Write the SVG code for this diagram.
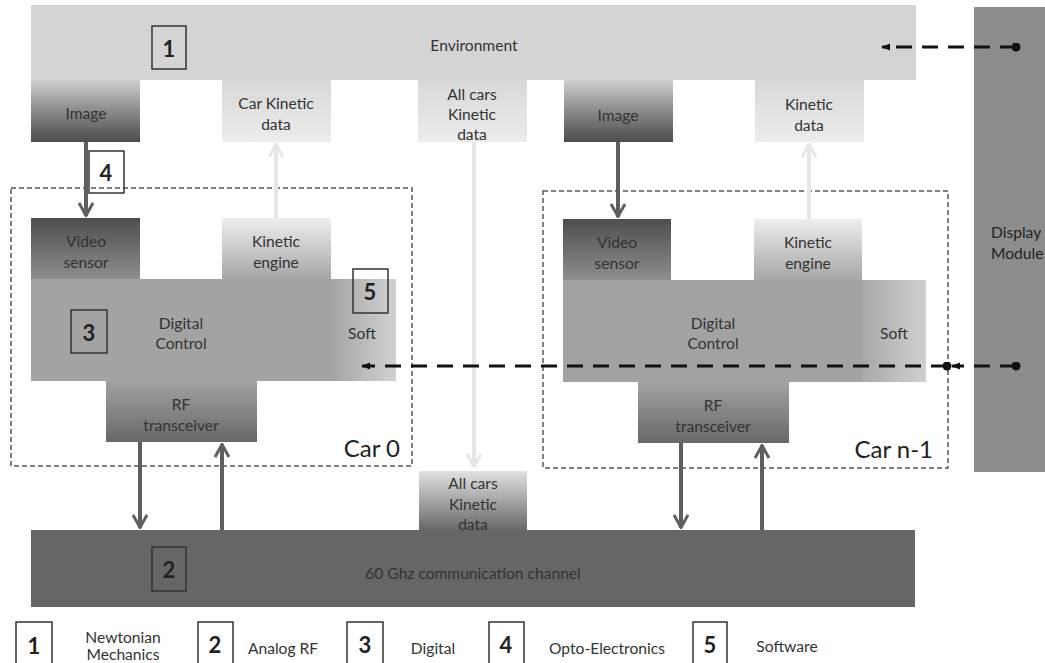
<svg xmlns="http://www.w3.org/2000/svg" width="1045" height="663" viewBox="0 0 1045 663">
<style>
text{font-family:Lato,"Liberation Sans",sans-serif;fill:#333;text-anchor:middle;dominant-baseline:central}
.t{font-size:15.6px}
.big{font-size:24px;fill:#222;text-anchor:end;dominant-baseline:auto}
.num{font-size:22px;font-weight:bold;fill:#222}
.nb{fill:none;stroke:#333;stroke-width:1.5}
.car{fill:none;stroke:#555;stroke-width:1.5;stroke-dasharray:5 3}
.dk{stroke:#5e5e5e;stroke-width:4;fill:none}
.lt{stroke:#e6e6e6;stroke-width:4;fill:none}
.dash{stroke:#111;stroke-width:3;fill:none;stroke-dasharray:16 10}
</style>
<defs>
<linearGradient id="gImg" x1="0" y1="0" x2="0" y2="1"><stop offset="0" stop-color="#cfcfcf"/><stop offset="0.5" stop-color="#8a8a8a"/><stop offset="1" stop-color="#4c4c4c"/></linearGradient>
<linearGradient id="gKin" x1="0" y1="0" x2="0" y2="1"><stop offset="0" stop-color="#d8d8d8"/><stop offset="1" stop-color="#ececec"/></linearGradient>
<linearGradient id="gVid" x1="0" y1="0" x2="0" y2="1"><stop offset="0" stop-color="#4e4e4e"/><stop offset="1" stop-color="#8e8e8e"/></linearGradient>
<linearGradient id="gEng" x1="0" y1="0" x2="0" y2="1"><stop offset="0" stop-color="#eeeeee"/><stop offset="1" stop-color="#a6a6a6"/></linearGradient>
<linearGradient id="gRF" x1="0" y1="0" x2="0" y2="1"><stop offset="0" stop-color="#a2a2a2"/><stop offset="1" stop-color="#686868"/></linearGradient>
<linearGradient id="gSoft0" x1="0" y1="0" x2="1" y2="0"><stop offset="0" stop-color="#a3a3a3"/><stop offset="1" stop-color="#d2d2d2"/></linearGradient>
<linearGradient id="gSoft1" x1="0" y1="0" x2="1" y2="0"><stop offset="0" stop-color="#a8a8a8"/><stop offset="1" stop-color="#d0d0d0"/></linearGradient>
<linearGradient id="gAll" x1="0" y1="0" x2="0" y2="1"><stop offset="0" stop-color="#e2e2e2"/><stop offset="1" stop-color="#666666"/></linearGradient>
<marker id="hd" viewBox="0 0 16 16" refX="15" refY="8" markerWidth="16" markerHeight="16" markerUnits="userSpaceOnUse" orient="auto"><path d="M2,1 L14.5,8 L2,15" fill="none" stroke="#5e5e5e" stroke-width="3"/></marker>
<marker id="hl" viewBox="0 0 16 16" refX="15" refY="8" markerWidth="16" markerHeight="16" markerUnits="userSpaceOnUse" orient="auto"><path d="M2,1 L14.5,8 L2,15" fill="none" stroke="#e6e6e6" stroke-width="3"/></marker>
<marker id="ha" viewBox="0 0 10 10" refX="9" refY="5" markerWidth="9" markerHeight="9" markerUnits="userSpaceOnUse" orient="auto"><path d="M0,1 L10,5 L0,9 Z" fill="#111"/></marker>
<marker id="dot" viewBox="0 0 10 10" refX="5" refY="5" markerWidth="9" markerHeight="9" markerUnits="userSpaceOnUse"><circle cx="5" cy="5" r="5" fill="#111"/></marker>
</defs>

<g id="display-module"><rect x="974" y="7" width="71" height="465" fill="#8c8c8c"/><text class="t" x="991" y="232" style="text-anchor:start;fill:#222">Display</text><text class="t" x="991" y="253" style="text-anchor:start;fill:#222">Module</text></g>

<g id="environment"><rect x="31" y="5" width="885" height="75" fill="#d4d4d4"/><text class="t" x="474" y="45">Environment</text><rect class="nb" x="152" y="26" width="34" height="43"/><text class="num" x="169" y="48">1</text></g>
<g id="image-0"><rect x="31" y="80" width="109" height="62" fill="url(#gImg)"/><text class="t" x="86" y="113">Image</text></g>
<g id="car-kinetic-data"><rect x="222" y="80" width="109" height="62" fill="url(#gKin)"/><text class="t" x="276" y="103">Car Kinetic</text><text class="t" x="276" y="124">data</text></g>
<g id="all-kinetic-top"><rect x="418" y="80" width="109" height="62" fill="url(#gKin)"/><text class="t" x="472" y="94">All cars</text><text class="t" x="472" y="114">Kinetic</text><text class="t" x="472" y="134">data</text></g>
<g id="image-1"><rect x="564" y="80" width="109" height="62" fill="url(#gImg)"/><text class="t" x="618" y="115">Image</text></g>
<g id="kinetic-data-1"><rect x="755" y="80" width="109" height="62" fill="url(#gKin)"/><text class="t" x="809" y="104">Kinetic</text><text class="t" x="809" y="125">data</text></g>

<g id="car0">
<rect class="car" x="11" y="188" width="401" height="278"/>
<text class="big" x="400" y="457">Car 0</text>
</g>
<g id="video-sensor-0"><rect x="31" y="218" width="109" height="61" fill="url(#gVid)"/><text class="t" x="86" y="241">Video</text><text class="t" x="86" y="262">sensor</text></g>
<g id="kinetic-engine-0"><rect x="222" y="218" width="109" height="61" fill="url(#gEng)"/><text class="t" x="276" y="241">Kinetic</text><text class="t" x="276" y="262">engine</text></g>
<g id="digital-control-0"><rect x="31" y="279" width="365" height="102" fill="#a3a3a3"/><rect x="330" y="279" width="66" height="102" fill="url(#gSoft0)"/><text class="t" x="181" y="323">Digital</text><text class="t" x="181" y="343">Control</text><text class="t" x="362" y="333">Soft</text>
<rect class="nb" x="71" y="310" width="36" height="43"/><text class="num" x="89" y="332">3</text>
<rect class="nb" x="353" y="269" width="35" height="44"/><text class="num" x="370" y="291">5</text></g>
<g id="rf-0"><rect x="106" y="381" width="151" height="61" fill="url(#gRF)"/><text class="t" x="181" y="404">RF</text><text class="t" x="181" y="425">transceiver</text></g>

<g id="car1">
<rect class="car" x="543" y="191" width="405" height="277"/>
<text class="big" x="933" y="458">Car n-1</text>
</g>
<g id="video-sensor-1"><rect x="563" y="219" width="108" height="61" fill="url(#gVid)"/><text class="t" x="617" y="242">Video</text><text class="t" x="617" y="263">sensor</text></g>
<g id="kinetic-engine-1"><rect x="754" y="219" width="108" height="61" fill="url(#gEng)"/><text class="t" x="808" y="242">Kinetic</text><text class="t" x="808" y="263">engine</text></g>
<g id="digital-control-1"><rect x="563" y="280" width="299" height="102" fill="#a2a2a2"/><rect x="862" y="280" width="64" height="102" fill="url(#gSoft1)"/><text class="t" x="713" y="323">Digital</text><text class="t" x="713" y="343">Control</text><text class="t" x="894" y="333">Soft</text></g>
<g id="rf-1"><rect x="638" y="382" width="151" height="61" fill="url(#gRF)"/><text class="t" x="713" y="405">RF</text><text class="t" x="713" y="426">transceiver</text></g>

<g id="channel"><rect x="31" y="530" width="884" height="77" fill="#666666"/><text class="t" x="473" y="573">60 Ghz communication channel</text><rect class="nb" x="152" y="547" width="34" height="44"/><text class="num" x="169" y="569">2</text></g>
<g id="all-kinetic-bottom"><rect x="419" y="471" width="108" height="60" fill="url(#gAll)"/><text class="t" x="473" y="483">All cars</text><text class="t" x="473" y="504">Kinetic</text><text class="t" x="473" y="524">data</text></g>

<g id="box4"><rect class="nb" x="89" y="151" width="35" height="42" fill="#fff"/><text class="num" x="106" y="172">4</text></g>

<g id="connectors">
<path class="dk" d="M86,142 V216" marker-end="url(#hd)"/>
<path class="lt" d="M276,218 V144" marker-end="url(#hl)"/>
<path class="lt" d="M474,142 V467" marker-end="url(#hl)"/>
<path class="dk" d="M618,142 V217" marker-end="url(#hd)"/>
<path class="lt" d="M809,219 V144" marker-end="url(#hl)"/>
<path class="dk" d="M140,442 V528" marker-end="url(#hd)"/>
<path class="dk" d="M222,530 V444" marker-end="url(#hd)"/>
<path class="dk" d="M681,443 V528" marker-end="url(#hd)"/>
<path class="dk" d="M762,530 V445" marker-end="url(#hd)"/>
<path class="dash" d="M1016,47 H882" marker-start="url(#dot)" marker-end="url(#ha)"/>
<path class="dash" d="M1016,366 H952" marker-start="url(#dot)" marker-end="url(#ha)"/>
<path class="dash" d="M947,366 H362" marker-start="url(#dot)" marker-end="url(#ha)"/>
</g>

<g id="legend">
<rect class="nb" x="16" y="622" width="36" height="45"/><text class="num" x="34" y="645">1</text>
<text class="t" x="123" y="637">Newtonian</text><text class="t" x="123" y="654">Mechanics</text>
<rect class="nb" x="198" y="622" width="35" height="45"/><text class="num" x="215" y="644">2</text>
<text class="t" x="283" y="648">Analog RF</text>
<rect class="nb" x="347" y="622" width="36" height="45"/><text class="num" x="365" y="644">3</text>
<text class="t" x="433" y="648">Digital</text>
<rect class="nb" x="489" y="622" width="35" height="45"/><text class="num" x="506" y="644">4</text>
<text class="t" x="607" y="648">Opto-Electronics</text>
<rect class="nb" x="693" y="622" width="34" height="45"/><text class="num" x="710" y="644">5</text>
<text class="t" x="787" y="646">Software</text>
</g>
</svg>
